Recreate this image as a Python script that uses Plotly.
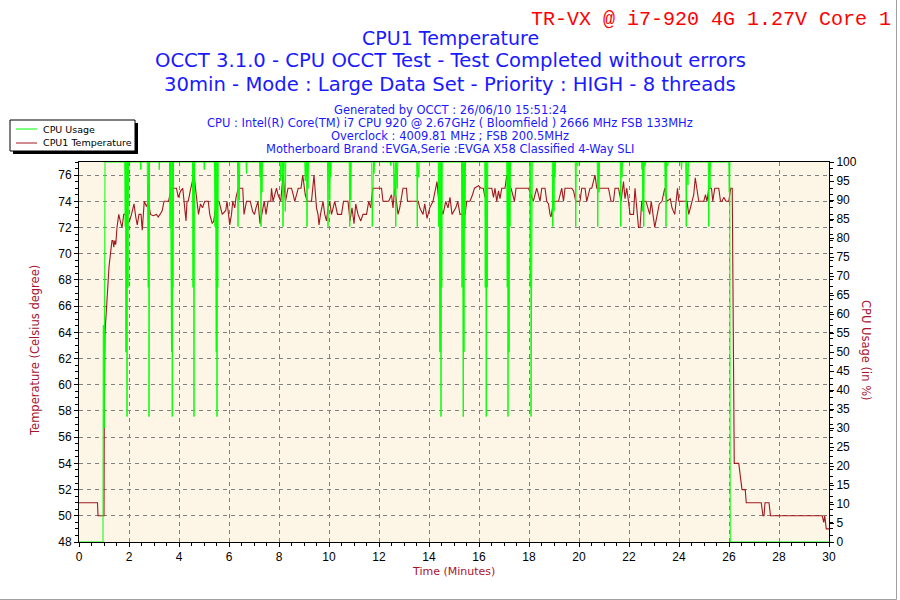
import plotly.graph_objects as go

# ---------------- data ----------------
temp_time = [
    0.00, 0.74, 0.76, 0.97, 1.00, 1.01, 1.04, 1.09, 1.14, 1.20,
    1.27, 1.32, 1.36, 1.39, 1.43, 1.47, 1.52, 1.59, 1.65, 1.72,
    1.79, 1.89, 1.94, 2.02, 2.10, 2.20, 2.27, 2.33, 2.40, 2.48,
    2.53, 2.61, 2.70, 2.77, 2.86, 2.97, 3.10, 3.17, 3.24, 3.33,
    3.40, 3.58, 3.69, 3.90, 3.97, 4.07, 4.15, 4.20, 4.28, 4.32,
    4.37, 4.45, 4.50, 4.60, 4.66, 4.73, 4.78, 4.86, 4.94, 5.03,
    5.17, 5.23, 5.33, 5.39, 5.50, 5.60, 5.65, 5.73, 5.87, 5.92,
    6.03, 6.10, 6.15, 6.23, 6.28, 6.37, 6.55, 6.60, 6.70, 6.85,
    6.95, 7.02, 7.08, 7.16, 7.24, 7.32, 7.41, 7.48, 7.56, 7.67,
    7.70, 7.76, 7.90, 7.96, 8.07, 8.16, 8.20, 8.26, 8.36, 8.50,
    8.57, 8.63, 8.77, 8.88, 8.95, 9.00, 9.05, 9.13, 9.30, 9.40,
    9.45, 9.50, 9.56, 9.60, 9.66, 9.76, 9.83, 9.90, 9.96, 10.03,
    10.10, 10.23, 10.34, 10.50, 10.58, 10.76, 10.84, 10.92, 11.00, 11.07,
    11.16, 11.27, 11.36, 11.50, 11.59, 11.67, 11.72, 11.76, 12.10, 12.16,
    12.39, 12.50, 12.56, 12.63, 12.70, 12.76, 12.83, 12.90, 12.96, 13.10,
    13.14, 13.57, 13.63, 13.76, 13.83, 13.92, 14.03, 14.16, 14.26, 14.32,
    14.39, 14.47, 14.56, 14.67, 14.76, 14.84, 14.92, 15.07, 15.15, 15.24,
    15.44, 15.51, 15.64, 15.74, 15.82, 15.98, 16.08, 16.17, 16.24, 16.31,
    16.51, 16.58, 16.64, 16.71, 16.78, 16.84, 16.91, 17.04, 17.11, 17.18,
    17.28, 17.35, 17.42, 17.48, 17.98, 18.08, 18.17, 18.24, 18.31, 18.38,
    18.44, 18.51, 18.64, 18.71, 18.78, 18.84, 18.88, 18.94, 18.98, 19.18,
    19.24, 19.31, 19.38, 19.44, 19.71, 19.78, 19.87, 20.04, 20.11, 20.24,
    20.31, 20.38, 20.44, 20.51, 20.58, 20.64, 20.71, 21.18, 21.28, 21.38,
    21.44, 21.58, 21.68, 21.78, 21.84, 21.91, 21.98, 22.04, 22.18, 22.24,
    22.31, 22.38, 22.44, 22.51, 22.68, 22.76, 22.83, 22.89, 22.95, 23.03,
    23.08, 23.13, 23.21, 23.32, 23.39, 23.43, 23.48, 23.52, 23.65, 23.72,
    23.83, 23.88, 23.94, 23.99, 24.32, 24.39, 24.45, 24.52, 24.59, 24.65,
    24.72, 24.79, 24.99, 25.06, 25.12, 25.19, 25.30, 25.35, 25.43, 25.59,
    25.66, 25.72, 25.79, 25.88, 25.99, 26.03, 26.07, 26.13, 26.15, 26.18,
    26.21, 26.39, 26.45, 26.52, 26.65, 26.69, 27.29, 27.36, 27.40, 27.44,
    27.60, 27.66, 29.73, 29.79, 29.83, 29.86, 29.89, 30.00,
]
temp_value = [
    51, 51, 50, 50, 50, 57, 64, 65.5, 67.5, 69,
    70.2, 71, 71, 70.5, 71, 70.7, 72, 73, 72.5, 72,
    73, 73, 72.3, 72.5, 73, 73.8, 72.8, 72.2, 73, 73,
    71.8, 74, 73.6, 74, 73, 72.9, 73, 72.8, 73, 73.3,
    74, 74, 75, 75, 74.3, 74.8, 75, 74, 72.5, 74,
    74, 74.8, 75.3, 76.1, 75, 74, 73, 73.8, 73.5, 74,
    74, 73, 72.3, 72.5, 74, 74, 73.5, 73, 73.3, 74,
    72.2, 73, 74, 73.5, 74.3, 75, 75, 73, 74, 74,
    73.2, 73, 73.5, 74, 72.3, 73, 74, 73, 74, 74,
    75, 74, 75, 74.5, 74, 76, 75, 74, 75, 75,
    74.5, 74, 75, 75, 76, 75, 74.5, 74, 74, 76,
    75, 73.5, 73, 72.2, 73, 74, 73, 72.5, 73.5, 74,
    73, 74, 73, 73, 74, 74, 72.5, 73.5, 72.3, 73.8,
    73, 72.5, 73, 73, 74, 73.5, 74.5, 75, 75, 74,
    74, 74.5, 73.5, 75, 74, 73, 73.5, 74.5, 75, 75,
    74, 74, 73.5, 73, 73.8, 72.7, 73.5, 74, 75, 75.5,
    74, 73.5, 73, 74, 73.5, 74.3, 73, 73.5, 74, 73,
    73, 74, 74, 74.5, 75, 75.2, 75, 75, 74.3, 75,
    75, 74.3, 75, 74, 74.8, 74.2, 75, 75, 76, 75.3,
    75, 74.5, 74, 75, 75, 74.5, 74, 74.5, 75, 74.5,
    74, 75, 75, 74, 73.8, 73, 72.8, 73.5, 74, 74,
    74.5, 75, 74, 75, 75, 74.8, 74, 74, 75, 75,
    74, 74.5, 75, 75, 75.5, 76, 75, 75, 74, 74,
    75, 75, 74, 75.5, 74.2, 75, 74, 73, 73, 75,
    73.5, 72, 72, 74, 74, 73.5, 73, 74, 73, 72,
    72.5, 73, 73.8, 74, 74.8, 75, 74.5, 74, 74.2, 73.5,
    73, 74, 75, 74, 74, 73, 73.5, 74, 74.5, 75.8,
    75, 74, 74, 74.5, 74, 75, 75, 74, 75, 75,
    74, 74, 74.3, 74, 74, 74.5, 75, 75, 69.7, 59.4,
    54, 54, 53, 52, 52, 51, 51, 50, 50, 51,
    51, 50, 50, 49.5, 50, 49.2, 49, 49,
]

usage_time = [
    0.00, 0.96, 0.97, 0.99, 1.01, 1.04,
    1.83, 1.85, 1.86, 1.87, 1.89, 1.91, 1.92, 1.94, 1.96, 1.98,
    2.46, 2.47, 2.48,
    2.73, 2.75, 2.77, 2.79, 2.80, 2.82,
    3.20, 3.21, 3.22,
    3.62, 3.64, 3.66, 3.68, 3.70, 3.72, 3.73, 3.75, 3.76, 3.78,
    4.54, 4.56, 4.58, 4.60, 4.62,
    5.00, 5.01, 5.02,
    5.42, 5.44, 5.46, 5.47, 5.49, 5.51, 5.52, 5.54, 5.55, 5.57,
    6.34, 6.36, 6.38, 6.41, 6.43,
    6.68, 6.70, 6.72,
    7.22, 7.24, 7.26, 7.28, 7.30, 7.32, 7.34,
    8.05, 8.07, 8.09, 8.14, 8.16, 8.18, 8.23, 8.25, 8.27,
    9.03, 9.05, 9.07, 9.10, 9.12, 9.14, 9.16, 9.18,
    9.94, 9.96, 9.98, 10.02, 10.03, 10.05, 10.07, 10.09,
    10.81, 10.83, 10.85, 10.87, 10.89,
    11.71, 11.73, 11.75, 11.78, 11.80, 11.82,
    12.45, 12.47, 12.49, 12.58, 12.60, 12.62, 12.65, 12.67, 12.69, 12.73, 12.75,
    13.51, 13.53, 13.55, 13.59, 13.61,
    14.37, 14.39, 14.41, 14.43, 14.45, 14.47, 14.48, 14.50, 14.51, 14.53,
    15.30, 15.32, 15.34, 15.37, 15.39, 15.40, 15.42, 15.44, 15.46,
    16.23, 16.25, 16.27, 16.29, 16.31, 16.33, 16.35,
    17.11, 17.13, 17.15, 17.16, 17.18, 17.19, 17.21, 17.22, 17.24, 17.26,
    18.03, 18.05, 18.07, 18.08, 18.10, 18.11, 18.13,
    18.93, 18.95, 18.97, 19.00, 19.02, 19.04, 19.06,
    19.85, 19.87, 19.89, 19.95, 19.97,
    20.73, 20.75, 20.77, 20.80, 20.82,
    21.65, 21.67, 21.69, 21.72, 21.74,
    22.50, 22.52, 22.54, 22.55, 22.57, 22.59, 22.61, 22.64, 22.66,
    23.43, 23.45, 23.47, 23.48, 23.50, 23.55, 23.57,
    24.08, 24.10, 24.12,
    24.27, 24.29, 24.31, 24.36, 24.38,
    25.17, 25.19, 25.21, 25.24, 25.26,
    25.99, 26.01, 26.03, 26.05, 30.00,
]
usage_value = [
    0, 0, 57, 57, 30, 100,
    100, 83, 100, 50, 50, 100, 33, 100, 67, 100,
    100, 98, 100,
    100, 67, 67, 100, 33, 100,
    100, 98, 100,
    100, 83, 100, 50, 50, 100, 33, 100, 67, 100,
    100, 67, 100, 33, 100,
    100, 98, 100,
    100, 83, 100, 50, 50, 100, 33, 100, 67, 100,
    100, 83, 100, 90, 100,
    100, 97, 100,
    100, 96, 100, 83, 100, 92, 100,
    100, 95, 100, 100, 83, 100, 100, 87, 100,
    100, 95, 100, 100, 83, 100, 93, 100,
    100, 83, 100, 100, 90, 100, 96, 100,
    100, 83, 100, 90, 100,
    100, 83, 100, 100, 97, 100,
    100, 99, 100, 100, 91, 100, 100, 83, 100, 93, 100,
    100, 83, 100, 96, 100,
    100, 83, 100, 50, 50, 100, 33, 100, 67, 100,
    100, 67, 100, 33, 100, 50, 100, 83, 100,
    100, 67, 100, 33, 100, 67, 100,
    100, 67, 100, 33, 100, 50, 50, 100, 83, 100,
    100, 67, 100, 33, 100, 67, 100,
    100, 83, 100, 87, 100, 96, 100,
    100, 83, 100, 99, 100,
    100, 83, 100, 92, 100,
    100, 83, 100, 96, 100,
    100, 98, 100, 87, 100, 83, 100, 99, 100,
    100, 91, 100, 83, 100, 99, 100,
    100, 98, 100,
    100, 83, 100, 94, 100,
    100, 83, 100, 93, 100,
    100, 92, 100, 0, 0,
]

time_ticks = list(range(0, 31, 2))
temp_ticks = list(range(48, 77, 2))
usage_ticks = list(range(0, 101, 5))

assert len(temp_time) == len(temp_value), (len(temp_time), len(temp_value))
assert len(usage_time) == len(usage_value), (len(usage_time), len(usage_value))

# ---------------- layout helpers (pixel -> paper) ----------------
L, R, T, B = 79, 71, 162, 58
W, H = 900 - L - R, 600 - T - B


def px(x):
    return (x - L) / W


def py(y):
    return (600 - B - y) / H


TEMP_COLOR = "#A0191E"
USAGE_COLOR = "#00FF00"
BLUE = "#1A1AFF"
AXIS_TITLE = "#A8122E"

fig = go.Figure()
fig.add_trace(go.Scatter(
    x=temp_time, y=temp_value, mode="lines", name="CPU1 Temperature",
    line=dict(color=TEMP_COLOR, width=1.1), yaxis="y", showlegend=False,
))
fig.add_trace(go.Scatter(
    x=usage_time, y=usage_value, mode="lines", name="CPU Usage",
    line=dict(color=USAGE_COLOR, width=1), yaxis="y2", showlegend=False,
))

tickfont = dict(family="Liberation Sans, Arial, sans-serif", size=12, color="black")

fig.update_layout(
    width=900, height=600,
    margin=dict(l=L, r=R, t=T, b=B, autoexpand=False),
    paper_bgcolor="white",
    plot_bgcolor="#FDF6E7",
    xaxis=dict(
        range=[0, 30], tickvals=time_ticks, ticktext=[str(v) for v in time_ticks],
        ticks="outside", ticklen=4, tickcolor="black", tickfont=tickfont,
        showline=True, linecolor="black", linewidth=1, mirror=True,
        showgrid=True, gridcolor="#808080", griddash="4px,4px", gridwidth=1,
        zeroline=False,
        minor=dict(dtick=0.5, tick0=0, ticks="outside", ticklen=3, tickcolor="black", showgrid=False),
    ),
    yaxis=dict(
        range=[48, 77], tickvals=temp_ticks, ticktext=[str(v) for v in temp_ticks],
        ticks="outside", ticklen=4, tickcolor="black", tickfont=tickfont,
        showline=True, linecolor="black", linewidth=1,
        showgrid=True, gridcolor="#808080", griddash="4px,4px", gridwidth=1,
        zeroline=False,
        minor=dict(dtick=0.5, tick0=48, ticks="outside", ticklen=3, tickcolor="black", showgrid=False),
    ),
    yaxis2=dict(
        range=[0, 100], overlaying="y", side="right",
        tickvals=usage_ticks, ticktext=[str(v) for v in usage_ticks],
        ticks="outside", ticklen=4, tickcolor="black", tickfont=tickfont,
        showline=True, linecolor="black", linewidth=1,
        showgrid=False, zeroline=False,
        minor=dict(dtick=100 / 58, tick0=0, ticks="outside", ticklen=3, tickcolor="black", showgrid=False),
    ),
)

ann = []


def text(x, y, s, size, color, family="DejaVu Sans, Verdana, sans-serif", xanchor="center", angle=0):
    ann.append(dict(
        x=px(x), y=py(y), xref="paper", yref="paper", text=s, showarrow=False,
        xanchor=xanchor, yanchor="middle", textangle=angle,
        font=dict(family=family, size=size, color=color),
    ))


text(893, 19, "TR-VX @ i7-920 4G 1.27V Core 1", 20, "#FF0000",
     family="Liberation Mono, DejaVu Sans Mono, monospace", xanchor="right")
text(450, 38, "CPU1 Temperature", 19, BLUE)
text(450, 61, "OCCT 3.1.0 - CPU OCCT Test - Test Completed without errors", 19.6, BLUE)
text(450, 84, "30min - Mode : Large Data Set - Priority : HIGH - 8 threads", 19.6, BLUE)
text(450, 110, "Generated by OCCT : 26/06/10 15:51:24", 11.5, BLUE)
text(450, 123, "CPU : Intel(R) Core(TM) i7 CPU 920 @ 2.67GHz ( Bloomfield ) 2666 MHz FSB 133MHz", 11.5, BLUE)
text(450, 136, "Overclock : 4009.81 MHz ; FSB 200.5MHz", 11.5, BLUE)
text(450, 149, "Motherboard Brand :EVGA,Serie :EVGA X58 Classified 4-Way SLI", 11.5, BLUE)

# axis titles
text(453, 571, "Time (Minutes)", 11, AXIS_TITLE)
text(35, 351, "Temperature (Celsius degree)", 11.5, AXIS_TITLE, angle=-90)
text(866, 351, "CPU Usage (in %)", 11.5, AXIS_TITLE, angle=90)

# legend texts
text(41, 129, "CPU Usage", 9.5, "black", xanchor="left")
text(41, 143, "CPU1 Temperature", 9.5, "black", xanchor="left")

fig.update_layout(annotations=ann)

shapes = [
    # legend shadow + box
    dict(type="rect", xref="paper", yref="paper", x0=px(13), x1=px(138), y0=py(154), y1=py(123),
         fillcolor="black", line=dict(width=0), layer="above"),
    dict(type="rect", xref="paper", yref="paper", x0=px(10), x1=px(135), y0=py(151), y1=py(120),
         fillcolor="white", line=dict(color="black", width=1), layer="above"),
    dict(type="line", xref="paper", yref="paper", x0=px(16), x1=px(37), y0=py(129), y1=py(129),
         line=dict(color=USAGE_COLOR, width=1), layer="above"),
    dict(type="line", xref="paper", yref="paper", x0=px(16), x1=px(37), y0=py(143), y1=py(143),
         line=dict(color=TEMP_COLOR, width=1), layer="above"),
    # image border (right / bottom)
    dict(type="line", xref="paper", yref="paper", x0=px(896.5), x1=px(896.5), y0=py(0), y1=py(599.5),
         line=dict(color="#A0A0A0", width=1), layer="above"),
    dict(type="line", xref="paper", yref="paper", x0=px(0), x1=px(896.5), y0=py(599.5), y1=py(599.5),
         line=dict(color="#A0A0A0", width=1), layer="above"),
]
fig.update_layout(shapes=shapes)

fig.write_html("out.html")
